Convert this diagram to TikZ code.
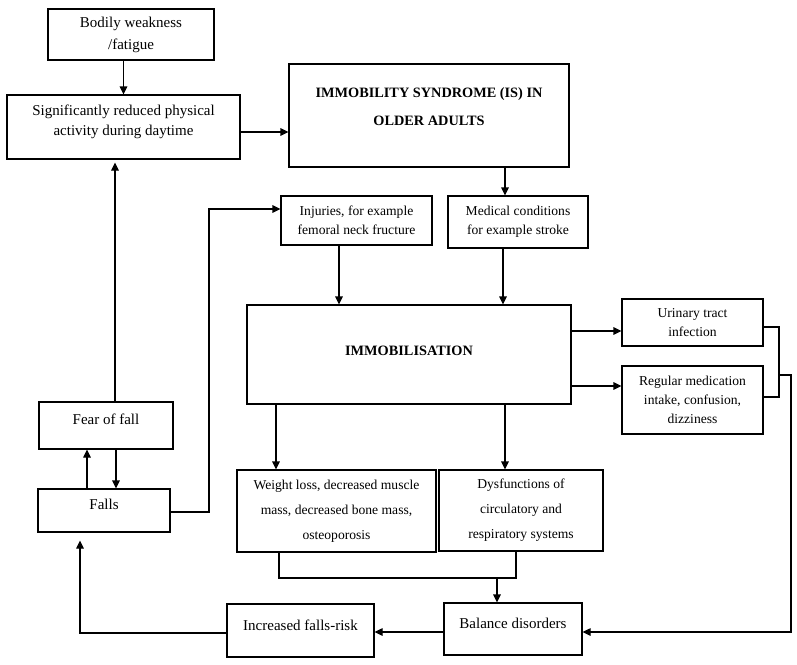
\documentclass[tikz,border=0pt]{standalone}
\usepackage{fontspec}
\setmainfont{Liberation Serif}
\usetikzlibrary{arrows.meta}
\tikzset{
  box/.style={draw, line width=1.1pt, inner sep=0pt, align=center},
  bigf/.style={font=\fontsize{15}{21}\selectfont},
  smallf/.style={font=\fontsize{13.6}{19}\selectfont},
  arr/.style={-{Triangle[length=8pt,width=7.5pt]}, line width=1.1pt},
  ln/.style={line width=1.1pt},
}
\begin{document}
\begin{tikzpicture}[x=1pt,y=-1pt]
\useasboundingbox (0,0) rectangle (797,664);
% boxes
\node[box,font=\fontsize{15}{22}\selectfont,minimum width=166,minimum height=51] (bodily) at (131,34.5) {Bodily weakness\\/fatigue};
\node[box,font=\fontsize{15}{20.5}\selectfont,minimum width=233,minimum height=64,text depth=13.8pt] (sig) at (123.5,127) {Significantly reduced physical\\activity during daytime};
\node[box,font=\fontsize{14.3}{28}\selectfont\bfseries,minimum width=280,minimum height=103,text depth=17pt] (IS) at (429,115.5) {IMMOBILITY SYNDROME (IS) IN\\OLDER ADULTS};
\node[box,smallf,minimum width=151,minimum height=49] (inj) at (356.5,220.5) {Injuries, for example\\femoral neck fructure};
\node[box,smallf,minimum width=140,minimum height=52] (med) at (518,222) {Medical conditions\\for example stroke};
\node[box,font=\fontsize{14.3}{21}\selectfont\bfseries,minimum width=324,minimum height=99,text height=10pt,text depth=7.4pt] (immob) at (409,354.5) {IMMOBILISATION};
\node[box,smallf,minimum width=141,minimum height=47] (uti) at (692.5,322.5) {Urinary tract\\infection};
\node[box,smallf,minimum width=141,minimum height=68] (reg) at (692.5,400) {Regular medication\\intake, confusion,\\dizziness};
\node[box,bigf,minimum width=134,minimum height=47,text height=10pt,text depth=13pt] (fear) at (106,425.5) {Fear of fall};
\node[box,bigf,minimum width=132,minimum height=43,text height=10pt,text depth=13pt] (falls) at (104,510.5) {Falls};
\node[box,font=\fontsize{13.6}{25}\selectfont,minimum width=199,minimum height=82] (weight) at (336.5,511) {Weight loss, decreased muscle\\mass, decreased bone mass,\\osteoporosis};
\node[box,font=\fontsize{13.6}{25}\selectfont,minimum width=164,minimum height=81] (dysf) at (521,510.5) {Dysfunctions of\\circulatory and\\respiratory systems};
\node[box,bigf,minimum width=138,minimum height=52,text height=10pt,text depth=12pt] (balance) at (513,629) {Balance disorders};
\node[box,bigf,minimum width=147,minimum height=53,text height=10pt,text depth=11pt] (incr) at (300.5,630.5) {Increased falls-risk};
% connectors
\draw[arr] (bodily.south -| sig.north) -- (sig.north);
\draw[arr] (sig.east |- 0,132) -- (IS.west |- 0,132);
\draw[arr, shorten >=3pt] (fear.north -| 115,0) -- (sig.south -| 115,0);
\draw[arr] (falls.north -| 87,0) -- (fear.south -| 87,0);
\draw[arr] (fear.south -| 116,0) -- (falls.north -| 116,0);
\draw[arr] (falls.east |- 0,512) -- (209,512) -- (209,209) -- (inj.west |- 0,209);
\draw[arr] (IS.south -| 505,0) -- (med.north -| 505,0);
\draw[arr] (inj.south -| 339,0) -- (immob.north -| 339,0);
\draw[arr] (med.south -| 503,0) -- (immob.north -| 503,0);
\draw[arr] (immob.east |- 0,331) -- (uti.west |- 0,331);
\draw[arr] (immob.east |- 0,386) -- (reg.west |- 0,386);
\draw[ln] (uti.east |- 0,327) -- (779,327) -- (779,397) -- (reg.east |- 0,397);
\coordinate (j1) at (779,375);
\draw[arr] (j1) -- (791,375) -- (791,632) -- (balance.east |- 0,632);
\draw[arr] (immob.south -| 276,0) -- (weight.north -| 276,0);
\draw[arr] (immob.south -| 505,0) -- (dysf.north -| 505,0);
\draw[ln] (weight.south -| 279,0) -- (279,578) -- (516,578) -- (dysf.south -| 516,0);
\coordinate (j2) at (497,578);
\draw[arr] (j2) -- (balance.north -| 497,0);
\draw[arr] (balance.west |- 0,632) -- (incr.east |- 0,632);
\draw[arr, shorten >=8pt] (incr.west |- 0,633) -- (80,633) -- (falls.south -| 80,0);
\end{tikzpicture}
\end{document}
